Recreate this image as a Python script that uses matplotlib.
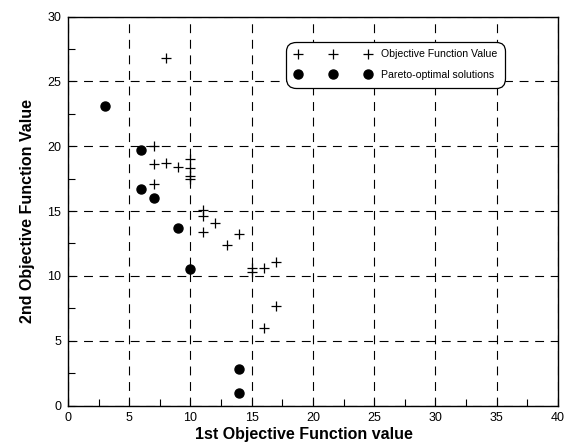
import matplotlib
matplotlib.use("Agg")
import matplotlib.pyplot as plt
from matplotlib.ticker import MultipleLocator

plt.rcParams['font.family'] = ['Liberation Sans', 'DejaVu Sans']

# objective function values (all evaluated solutions)
obj_x = [8, 7, 7, 8, 9, 10, 10, 10, 10, 7, 11, 11, 12, 11, 14, 13, 15, 15, 16, 17, 17, 16]
obj_y = [26.8, 20.0, 18.6, 18.7, 18.4, 19.0, 18.3, 17.7, 17.5, 17.1, 15.1, 14.6, 14.1, 13.4, 13.2, 12.4,
         10.6, 10.3, 10.6, 11.1, 7.7, 6.0]

# pareto-optimal solutions
par_x = [3, 6, 6, 7, 9, 10, 14, 14]
par_y = [23.1, 19.7, 16.7, 16.0, 13.7, 10.5, 2.8, 1.0]

fig = plt.figure(figsize=(5.68, 4.46), dpi=100)
ax = fig.add_axes([0.1197, 0.0908, 0.8627, 0.8718])

ax.plot(obj_x, obj_y, linestyle='none', marker='+', color='black', ms=7, mew=0.9,
        label='Objective Function Value')
ax.plot(par_x, par_y, linestyle='none', marker='o', color='black', ms=6.5,
        label='Pareto-optimal solutions')

ax.set_xlim(0, 40)
ax.set_ylim(0, 30)
ax.xaxis.set_major_locator(MultipleLocator(5))
ax.xaxis.set_minor_locator(MultipleLocator(2.5))
ax.yaxis.set_major_locator(MultipleLocator(5))
ax.yaxis.set_minor_locator(MultipleLocator(2.5))
ax.tick_params(which='both', direction='in', length=5, width=0.8, labelsize=9, colors='black')
ax.tick_params(which='major', pad=5)
ax.grid(True, which='major', color='black', linestyle=(0, (8, 6)), linewidth=0.8)

for s in ax.spines.values():
    s.set_linewidth(1.0)

ax.set_xlabel('1st Objective Function value', fontsize=11.5, fontweight='bold')
ax.xaxis.set_label_coords(0.4816, -0.055)
ax.set_ylabel('2nd Objective Function Value', fontsize=11.5, fontweight='bold', labelpad=9)

leg = ax.legend(loc='upper right', bbox_to_anchor=(0.892, 0.936), numpoints=3, fontsize=7.6,
                handlelength=7.3, handletextpad=0.9, borderpad=0.75, labelspacing=1.0,
                fancybox=True, framealpha=1, edgecolor='black', borderaxespad=0)
leg.get_frame().set_linewidth(0.9)
leg.get_frame().set_boxstyle('round', pad=0, rounding_size=0.9)

fig.savefig('out.png', dpi=100)
